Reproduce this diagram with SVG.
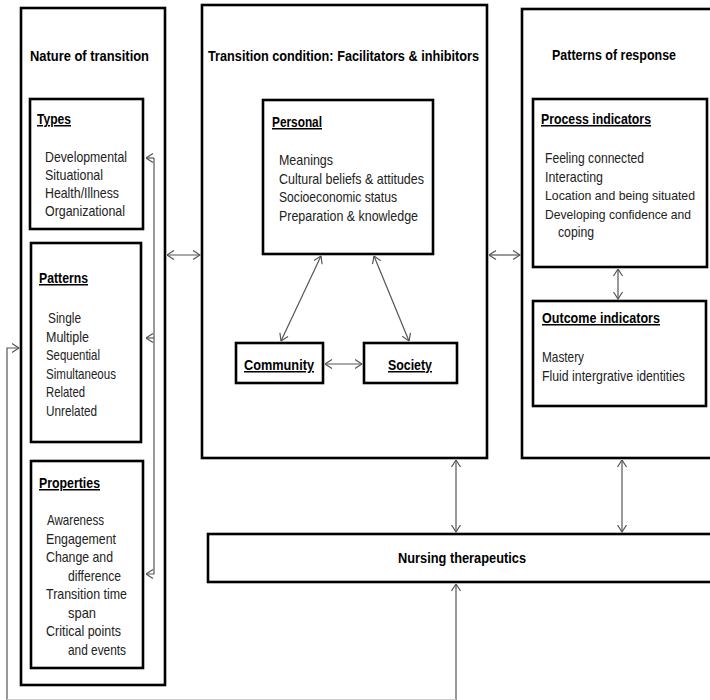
<svg xmlns="http://www.w3.org/2000/svg" width="710" height="700" viewBox="0 0 710 700">
<style>
.box{fill:#fff;stroke:#000;stroke-width:2.6}
.h{font-family:"Liberation Sans",Arial,sans-serif;font-weight:bold;font-size:15px;fill:#000}
.u{font-family:"Liberation Sans",Arial,sans-serif;font-weight:bold;font-size:15px;fill:#000;text-decoration:underline}
.t{font-family:"Liberation Sans",Arial,sans-serif;font-size:14.5px;fill:#222}
.s{font-size:13px}
.c{fill:none;stroke:#555;stroke-width:1.2}
</style>
<defs>
<marker id="a" viewBox="0 0 8 10" refX="7.5" refY="5" markerWidth="8" markerHeight="10" markerUnits="userSpaceOnUse" orient="auto-start-reverse">
<path d="M0.5,0.5 L7.5,5 L0.5,9.5" fill="none" stroke="#555" stroke-width="1.2"/>
</marker>
</defs>
<rect width="710" height="700" fill="#fff"/>

<g id="nature">
<rect class="box" x="21" y="8" width="144" height="677"/>
<text class="h" x="30" y="61" textLength="119" lengthAdjust="spacingAndGlyphs">Nature of transition</text>
</g>
<g id="types">
<rect class="box" x="30" y="99" width="113" height="130"/>
<text class="u" x="37" y="124" textLength="34" lengthAdjust="spacingAndGlyphs">Types</text>
<text class="t" x="45" y="162" textLength="82" lengthAdjust="spacingAndGlyphs">Developmental</text>
<text class="t" x="45" y="180" textLength="58" lengthAdjust="spacingAndGlyphs">Situational</text>
<text class="t" x="45" y="198" textLength="74" lengthAdjust="spacingAndGlyphs">Health/Illness</text>
<text class="t" x="45" y="216" textLength="80" lengthAdjust="spacingAndGlyphs">Organizational</text>
</g>
<g id="patterns">
<rect class="box" x="31" y="243" width="110" height="199"/>
<text class="u" x="39" y="283" textLength="49" lengthAdjust="spacingAndGlyphs">Patterns</text>
<text class="t" x="48" y="323" textLength="33" lengthAdjust="spacingAndGlyphs">Single</text>
<text class="t" x="46" y="341.5" textLength="43" lengthAdjust="spacingAndGlyphs">Multiple</text>
<text class="t" x="46" y="360" textLength="54" lengthAdjust="spacingAndGlyphs">Sequential</text>
<text class="t" x="46" y="378.5" textLength="70" lengthAdjust="spacingAndGlyphs">Simultaneous</text>
<text class="t" x="46" y="397" textLength="39" lengthAdjust="spacingAndGlyphs">Related</text>
<text class="t" x="46" y="415.5" textLength="51" lengthAdjust="spacingAndGlyphs">Unrelated</text>
</g>
<g id="properties">
<rect class="box" x="31" y="461" width="112" height="207"/>
<text class="u" x="39" y="488" textLength="61" lengthAdjust="spacingAndGlyphs">Properties</text>
<text class="t" x="47" y="525" textLength="57" lengthAdjust="spacingAndGlyphs">Awareness</text>
<text class="t" x="46" y="543.5" textLength="70" lengthAdjust="spacingAndGlyphs">Engagement</text>
<text class="t" x="46" y="562" textLength="67" lengthAdjust="spacingAndGlyphs">Change and</text>
<text class="t" x="68" y="580.5" textLength="53" lengthAdjust="spacingAndGlyphs">difference</text>
<text class="t" x="46" y="599" textLength="81" lengthAdjust="spacingAndGlyphs">Transition time</text>
<text class="t" x="68" y="617.5" textLength="28" lengthAdjust="spacingAndGlyphs">span</text>
<text class="t" x="46" y="636" textLength="75" lengthAdjust="spacingAndGlyphs">Critical points</text>
<text class="t" x="68" y="654.5" textLength="58" lengthAdjust="spacingAndGlyphs">and events</text>
</g>

<g id="condition">
<rect class="box" x="202" y="5" width="285" height="453"/>
<text class="h" x="208" y="61" textLength="271" lengthAdjust="spacingAndGlyphs">Transition condition: Facilitators &amp; inhibitors</text>
</g>
<g id="personal">
<rect class="box" x="263" y="100" width="170" height="154"/>
<text class="u" x="272" y="127" textLength="50" lengthAdjust="spacingAndGlyphs">Personal</text>
<text class="t" x="279" y="165" textLength="54" lengthAdjust="spacingAndGlyphs">Meanings</text>
<text class="t" x="279" y="183.5" textLength="145" lengthAdjust="spacingAndGlyphs">Cultural beliefs &amp; attitudes</text>
<text class="t" x="279" y="202" textLength="118" lengthAdjust="spacingAndGlyphs">Socioeconomic status</text>
<text class="t" x="279" y="220.5" textLength="139" lengthAdjust="spacingAndGlyphs">Preparation &amp; knowledge</text>
</g>
<g id="community">
<rect class="box" x="236" y="343" width="87" height="40"/>
<text class="u" x="244" y="370" textLength="70" lengthAdjust="spacingAndGlyphs">Community</text>
</g>
<g id="society">
<rect class="box" x="364" y="343" width="93" height="40"/>
<text class="u" x="388" y="370" textLength="44" lengthAdjust="spacingAndGlyphs">Society</text>
</g>

<g id="response">
<rect class="box" x="522" y="9" width="200" height="449"/>
<text class="h" x="552" y="60" textLength="124" lengthAdjust="spacingAndGlyphs">Patterns of response</text>
</g>
<g id="process">
<rect class="box" x="533" y="99" width="174" height="168"/>
<text class="u" x="541" y="124" textLength="110" lengthAdjust="spacingAndGlyphs">Process indicators</text>
<text class="t" x="545" y="163" textLength="99" lengthAdjust="spacingAndGlyphs">Feeling connected</text>
<text class="t" x="545" y="181.5" textLength="58" lengthAdjust="spacingAndGlyphs">Interacting</text>
<text class="t s" x="545" y="200" textLength="150" lengthAdjust="spacingAndGlyphs">Location and being situated</text>
<text class="t s" x="545" y="218.5" textLength="146" lengthAdjust="spacingAndGlyphs">Developing confidence and</text>
<text class="t" x="558" y="237" textLength="36" lengthAdjust="spacingAndGlyphs">coping</text>
</g>
<g id="outcome">
<rect class="box" x="533" y="301" width="173" height="105"/>
<text class="u" x="542" y="323" textLength="118" lengthAdjust="spacingAndGlyphs">Outcome indicators</text>
<text class="t" x="542" y="362" textLength="42" lengthAdjust="spacingAndGlyphs">Mastery</text>
<text class="t" x="542" y="380.5" textLength="143" lengthAdjust="spacingAndGlyphs">Fluid intergrative identities</text>
</g>

<g id="nursing">
<rect class="box" x="208" y="534" width="515" height="48"/>
<text class="h" x="398" y="563" textLength="128" lengthAdjust="spacingAndGlyphs">Nursing therapeutics</text>
</g>

<g id="connectors">
<line class="c" x1="167" y1="255" x2="200" y2="255" marker-start="url(#a)" marker-end="url(#a)"/>
<line class="c" x1="489" y1="255" x2="520" y2="255" marker-start="url(#a)" marker-end="url(#a)"/>
<line class="c" x1="321" y1="256" x2="281" y2="341" marker-start="url(#a)" marker-end="url(#a)"/>
<line class="c" x1="374" y1="256" x2="409" y2="341" marker-start="url(#a)" marker-end="url(#a)"/>
<line class="c" x1="325" y1="364" x2="362" y2="364" marker-start="url(#a)" marker-end="url(#a)"/>
<line class="c" x1="618" y1="269" x2="618" y2="299" marker-start="url(#a)" marker-end="url(#a)"/>
<line class="c" x1="456" y1="460" x2="456" y2="532" marker-start="url(#a)" marker-end="url(#a)"/>
<line class="c" x1="622" y1="460" x2="622" y2="532" marker-start="url(#a)" marker-end="url(#a)"/>
<line class="c" x1="456" y1="700" x2="456" y2="584" marker-end="url(#a)"/>
<polyline class="c" points="154,158 154,574 146,574" marker-end="url(#a)"/>
<line class="c" x1="154" y1="158" x2="146" y2="158" marker-end="url(#a)"/>
<line class="c" x1="154" y1="338" x2="146" y2="338" marker-end="url(#a)"/>
<polyline class="c" points="7,700 7,348 19,348" marker-end="url(#a)"/>
<line x1="7" y1="699.5" x2="456" y2="699.5" stroke="#ccc" stroke-width="1"/>
</g>
</svg>
